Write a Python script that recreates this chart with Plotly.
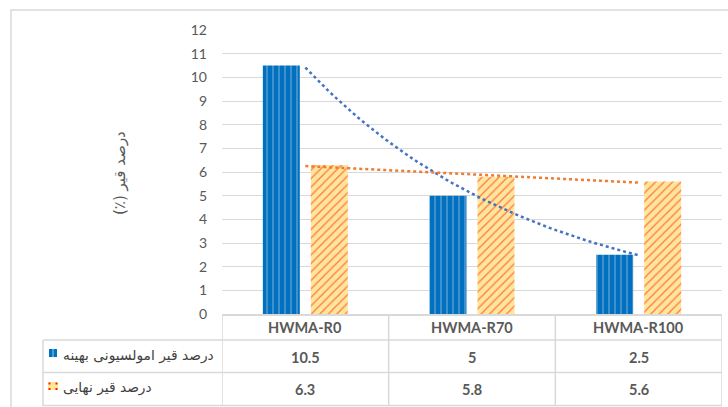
import numpy as np
import plotly.graph_objects as go

# ---------------- data ----------------
categories = ["HWMA-R0", "HWMA-R70", "HWMA-R100"]
series_names = ["درصد قیر امولسیونی بهینه", "درصد قیر نهایی"]
optimum_emulsion = [10.5, 5, 2.5]
final_bitumen = [6.3, 5.8, 5.6]
value_labels_1 = ["10.5", "5", "2.5"]
value_labels_2 = ["6.3", "5.8", "5.6"]
y_title = "درصد قیر (٪)"
y_ticks = list(range(0, 13))

# ---------------- layout geometry (pixels) ----------------
W, H = 728, 407
ML, MR, MT, MB = 222, 6, 30, 93
PW, PH = W - ML - MR, H - MT - MB


def px(x):
    return (x - ML) / PW


def py(y):
    return (H - MB - y) / PH


def rtl(s):
    return "\u202B" + s + "\u202C"


xs = np.arange(len(categories))

# trendlines derived from the data (exponential for series 1, linear for series 2)
b1, a1 = np.polyfit(xs, np.log(optimum_emulsion), 1)
m2, c2 = np.polyfit(xs, final_bitumen, 1)
xt = np.linspace(0, len(categories) - 1, 60)
trend1 = np.exp(a1 + b1 * xt)
trend2 = c2 + m2 * xt

GRID = "#D9D9D9"
TXT = "#595959"
ARFONT = "DejaVu Sans, Noto Sans, sans-serif"
NUMFONT = "Lato, Open Sans, sans-serif"

fig = go.Figure()
fig.add_trace(go.Bar(
    x=xs, y=optimum_emulsion, name=series_names[0],
    marker=dict(color="#0070C0", line=dict(width=0),
                pattern=dict(shape="|", fgcolor="#A9C4E0", bgcolor="#0070C0",
                             size=6, solidity=0.25)),
))
fig.add_trace(go.Bar(
    x=xs, y=final_bitumen, name=series_names[1],
    marker=dict(color="#FFE699", line=dict(width=0),
                pattern=dict(shape="/", fgcolor="#FF0000", bgcolor="#FFE699",
                             size=6, solidity=0.2)),
))
fig.add_trace(go.Scatter(x=xt, y=trend1, mode="lines",
                         line=dict(color="#4472C4", width=2.5, dash="dot")))
fig.add_trace(go.Scatter(x=xt, y=trend2, mode="lines",
                         line=dict(color="#ED7D31", width=2.5, dash="dot")))

shapes = []
# chart-area border (cropped on right / bottom)
shapes.append(dict(type="rect", xref="paper", yref="paper",
                   x0=px(11), x1=px(740), y0=py(420), y1=py(10),
                   line=dict(color=GRID, width=1.5), fillcolor="rgba(0,0,0,0)"))
# table vertical lines at category boundaries
for b in np.arange(-0.5, len(categories), 1.0):
    shapes.append(dict(type="line", xref="x", yref="paper", x0=b, x1=b,
                       y0=py(314), y1=py(406), line=dict(color=GRID, width=1.5)))
# legend column left border
shapes.append(dict(type="line", xref="paper", yref="paper", x0=px(43), x1=px(43),
                   y0=py(340), y1=py(406), line=dict(color=GRID, width=1.5)))
# table horizontal lines
for yy in (340, 372.5, 405.5):
    shapes.append(dict(type="line", xref="paper", yref="paper", x0=px(43), x1=px(722),
                       y0=py(yy), y1=py(yy), line=dict(color=GRID, width=1.5)))
# legend keys
shapes.append(dict(type="rect", xref="paper", yref="paper", x0=px(49), x1=px(57),
                   y0=py(357), y1=py(349), line=dict(width=0), fillcolor="#0070C0"))
shapes.append(dict(type="line", xref="paper", yref="paper", x0=px(53), x1=px(53),
                   y0=py(357), y1=py(349), line=dict(color="#A9C4E0", width=1)))
shapes.append(dict(type="rect", xref="paper", yref="paper", x0=px(48), x1=px(58),
                   y0=py(390), y1=py(382), line=dict(width=0), fillcolor="#FFE699"))
for (kx, ky) in [(49.5, 383.5), (56.5, 383.5), (49.5, 389), (56.5, 389)]:
    shapes.append(dict(type="rect", xref="paper", yref="paper", x0=px(kx - 1), x1=px(kx + 1),
                       y0=py(ky + 1), y1=py(ky - 1), line=dict(width=0), fillcolor="#FF2000"))

annotations = []
numfont = dict(family=NUMFONT, size=14.5, color=TXT, weight="bold")
for i, c in enumerate(categories):
    annotations.append(dict(x=i, y=py(327), xref="x", yref="paper", text=c, showarrow=False,
                            yanchor="middle", font=numfont))
    annotations.append(dict(x=i, y=py(357), xref="x", yref="paper", text=value_labels_1[i],
                            showarrow=False, yanchor="middle", font=numfont))
    annotations.append(dict(x=i, y=py(389), xref="x", yref="paper", text=value_labels_2[i],
                            showarrow=False, yanchor="middle", font=numfont))
# series labels
annotations.append(dict(x=px(216), y=py(355), xref="paper", yref="paper",
                        text=rtl(series_names[0]), xanchor="right", yanchor="middle",
                        showarrow=False, font=dict(family=ARFONT, size=13.8, color="#404040")))
annotations.append(dict(x=px(61), y=py(387), xref="paper", yref="paper",
                        text=rtl(series_names[1]), xanchor="left", yanchor="middle",
                        showarrow=False, font=dict(family=ARFONT, size=13.8, color="#404040")))
# y-axis title
annotations.append(dict(x=px(120), y=py(173), xref="paper", yref="paper", text=rtl(y_title),
                        textangle=-90, showarrow=False, xanchor="center", yanchor="middle",
                        font=dict(family=ARFONT, size=15, color=TXT)))

fig.update_layout(
    width=W, height=H,
    margin=dict(l=ML, r=MR, t=MT, b=MB, pad=0),
    paper_bgcolor="white", plot_bgcolor="white",
    showlegend=False,
    barmode="group", bargap=0.424, bargroupgap=0.23,
    shapes=shapes, annotations=annotations,
    xaxis=dict(range=[-0.5, len(categories) - 0.5], showticklabels=False, showgrid=False,
               zeroline=False, showline=True, linecolor=GRID, linewidth=1.5, ticks=""),
    yaxis=dict(range=[0, 12], tickvals=y_ticks, showgrid=True, gridcolor=GRID, gridwidth=1.3,
               zeroline=False, showline=False, ticks="", ticklabelstandoff=14,
               tickfont=dict(family=NUMFONT, size=14, color=TXT)),
)

fig.write_html("out.html", config={"displayModeBar": False},
               post_script="document.body.style.margin='0';")
